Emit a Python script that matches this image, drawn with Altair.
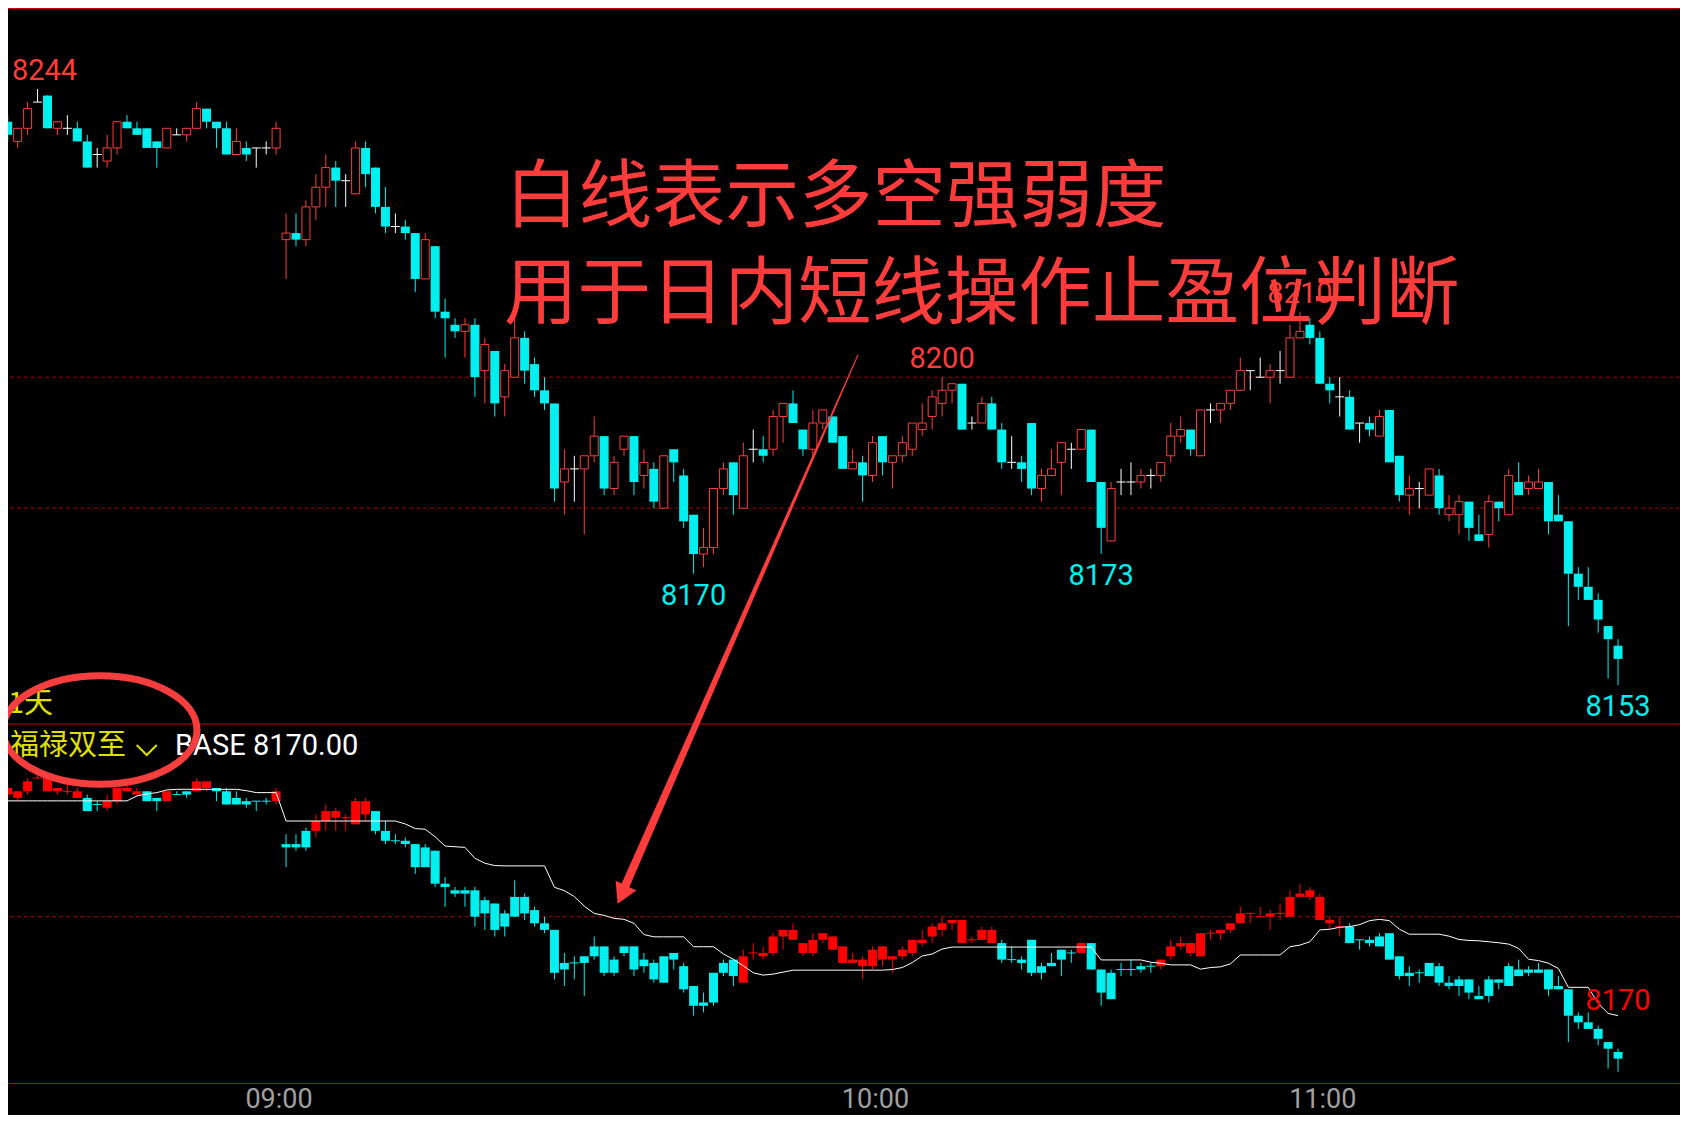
import altair as alt
import pandas as pd

# ---------------- data (1-minute candles) ----------------
OPEN = [
    8239, 8236, 8238, 8242, 8243, 8238, 8238, 8238, 8236, 8234,
    8233, 8235, 8239, 8238, 8238, 8236, 8235, 8237, 8237, 8238,
    8241, 8239, 8238, 8234, 8235, 8235, 8235, 8235, 8221, 8222,
    8221, 8226, 8229, 8232, 8230, 8228, 8235, 8232, 8226, 8223,
    8223, 8222, 8215, 8220, 8210, 8208, 8207, 8208, 8201, 8204,
    8197, 8200, 8206, 8202, 8198, 8196, 8184, 8186, 8186, 8188,
    8191, 8183, 8189, 8191, 8185, 8186, 8180, 8189, 8185, 8179,
    8173, 8174, 8183, 8187, 8180, 8189, 8189, 8189, 8194, 8196,
    8192, 8189, 8193, 8194, 8191, 8186, 8187, 8185, 8191, 8187,
    8188, 8189, 8192, 8194, 8196, 8198, 8199, 8193, 8193, 8196,
    8192, 8187, 8187, 8193, 8183, 8185, 8187, 8189, 8189, 8192,
    8184, 8175, 8184, 8184, 8184, 8185, 8185, 8188, 8191, 8192,
    8188, 8195, 8195, 8196, 8198, 8201, 8200, 8200, 8201, 8200,
    8206, 8208, 8206, 8199, 8197, 8197, 8193, 8193, 8191, 8195,
    8188, 8182, 8183, 8182, 8185, 8179, 8179, 8181, 8176, 8176,
    8181, 8179, 8184, 8183, 8183, 8184, 8179, 8178, 8170, 8168,
    8166, 8162, 8159,
]
HIGH = [
    8240, 8238, 8242, 8244, 8243, 8239, 8240, 8239, 8237, 8235,
    8237, 8239, 8240, 8239, 8238, 8236, 8238, 8238, 8238, 8242,
    8241, 8239, 8239, 8238, 8236, 8235, 8236, 8239, 8225, 8225,
    8227, 8231, 8234, 8233, 8231, 8236, 8236, 8232, 8229, 8225,
    8224, 8222, 8222, 8220, 8212, 8209, 8209, 8209, 8206, 8204,
    8202, 8211, 8207, 8203, 8200, 8196, 8189, 8188, 8188, 8194,
    8191, 8188, 8191, 8191, 8189, 8187, 8188, 8189, 8186, 8179,
    8177, 8183, 8187, 8187, 8190, 8192, 8191, 8195, 8196, 8198,
    8192, 8195, 8195, 8194, 8191, 8189, 8188, 8191, 8191, 8188,
    8191, 8193, 8196, 8198, 8200, 8199, 8199, 8194, 8197, 8197,
    8193, 8191, 8188, 8193, 8186, 8189, 8190, 8190, 8192, 8192,
    8184, 8184, 8186, 8187, 8186, 8186, 8187, 8193, 8194, 8192,
    8195, 8196, 8196, 8198, 8203, 8201, 8203, 8202, 8204, 8208,
    8210, 8209, 8207, 8200, 8200, 8198, 8193, 8194, 8195, 8195,
    8188, 8185, 8184, 8186, 8186, 8182, 8182, 8181, 8179, 8182,
    8181, 8186, 8187, 8185, 8186, 8184, 8182, 8178, 8171, 8171,
    8167, 8162, 8160,
]
LOW = [
    8236, 8235, 8237, 8242, 8238, 8237, 8237, 8236, 8232, 8232,
    8232, 8234, 8238, 8237, 8235, 8232, 8235, 8237, 8236, 8238,
    8238, 8235, 8234, 8234, 8233, 8232, 8234, 8234, 8215, 8220,
    8220, 8224, 8226, 8226, 8226, 8228, 8229, 8225, 8222, 8222,
    8221, 8213, 8215, 8209, 8203, 8206, 8203, 8197, 8196, 8194,
    8194, 8200, 8199, 8197, 8195, 8181, 8179, 8181, 8176, 8187,
    8182, 8182, 8188, 8182, 8183, 8180, 8180, 8184, 8177, 8170,
    8171, 8173, 8182, 8179, 8180, 8187, 8187, 8188, 8190, 8193,
    8188, 8188, 8192, 8190, 8186, 8186, 8181, 8184, 8185, 8183,
    8187, 8188, 8191, 8192, 8194, 8196, 8192, 8192, 8193, 8192,
    8186, 8186, 8184, 8182, 8181, 8185, 8182, 8186, 8189, 8184,
    8173, 8175, 8182, 8182, 8183, 8183, 8184, 8187, 8190, 8188,
    8188, 8193, 8193, 8195, 8198, 8198, 8200, 8196, 8199, 8200,
    8206, 8205, 8199, 8196, 8194, 8192, 8190, 8191, 8191, 8187,
    8181, 8179, 8180, 8182, 8179, 8178, 8176, 8175, 8175, 8174,
    8178, 8179, 8182, 8182, 8183, 8176, 8178, 8162, 8166, 8166,
    8161, 8154, 8153,
]
CLOSE = [
    8237, 8238, 8241, 8242, 8238, 8239, 8238, 8236, 8232, 8234,
    8235, 8239, 8238, 8237, 8235, 8235, 8238, 8237, 8238, 8241,
    8239, 8238, 8234, 8236, 8234, 8235, 8235, 8238, 8222, 8221,
    8226, 8229, 8232, 8230, 8230, 8235, 8231, 8226, 8223, 8223,
    8222, 8215, 8221, 8210, 8209, 8207, 8208, 8200, 8205, 8196,
    8201, 8206, 8201, 8198, 8196, 8183, 8186, 8186, 8188, 8191,
    8183, 8187, 8191, 8184, 8187, 8181, 8188, 8187, 8178, 8173,
    8174, 8183, 8186, 8182, 8188, 8189, 8188, 8194, 8196, 8193,
    8189, 8193, 8195, 8190, 8186, 8187, 8185, 8190, 8187, 8188,
    8190, 8193, 8193, 8197, 8198, 8199, 8192, 8193, 8196, 8192,
    8187, 8187, 8186, 8183, 8185, 8186, 8190, 8189, 8192, 8184,
    8177, 8183, 8184, 8184, 8185, 8185, 8187, 8191, 8192, 8189,
    8195, 8195, 8196, 8198, 8201, 8201, 8200, 8201, 8201, 8206,
    8207, 8206, 8199, 8198, 8197, 8192, 8193, 8192, 8194, 8187,
    8182, 8183, 8183, 8186, 8180, 8180, 8181, 8177, 8175, 8181,
    8180, 8185, 8182, 8184, 8184, 8178, 8178, 8170, 8168, 8166,
    8163, 8160, 8157,
]
# white "strength" line of the lower panel
STRENGTH = [
    8235.1, 8235.1, 8235.1, 8235.1, 8235.1, 8235.1, 8235.1, 8235.1, 8235.1, 8235.1,
    8235.1, 8235.1, 8235.1, 8236.6, 8237.2, 8237.6, 8238.4, 8238.6, 8238.6, 8238.6,
    8238.6, 8238.6, 8238.6, 8238.6, 8238.2, 8237.6, 8237.6, 8237.6, 8229.0, 8229.0,
    8229.0, 8229.0, 8229.0, 8229.0, 8229.0, 8229.0, 8229.0, 8229.0, 8229.0, 8229.0,
    8228.1, 8226.7, 8226.5, 8224.2, 8221.4, 8221.2, 8221.0, 8217.7, 8216.2, 8215.5,
    8215.4, 8215.4, 8215.4, 8215.4, 8215.4, 8208.9, 8207.9, 8206.1, 8203.2, 8201.0,
    8200.4, 8199.5, 8199.2, 8198.0, 8194.6, 8193.9, 8193.9, 8193.9, 8193.9, 8190.9,
    8190.9, 8190.9, 8188.7, 8187.1, 8185.1, 8183.0, 8182.3, 8182.6, 8183.2, 8183.8,
    8183.8, 8183.8, 8183.8, 8183.8, 8183.8, 8183.8, 8183.8, 8183.8, 8183.8, 8184.0,
    8184.6, 8186.1, 8188.1, 8188.7, 8190.2, 8190.8, 8190.8, 8190.8, 8190.8, 8190.8,
    8190.8, 8190.8, 8190.8, 8190.8, 8190.8, 8190.8, 8190.8, 8190.8, 8190.8, 8190.8,
    8186.9, 8186.9, 8186.9, 8186.9, 8186.9, 8186.2, 8185.9, 8185.4, 8185.4, 8185.4,
    8184.1, 8184.6, 8184.8, 8185.7, 8188.4, 8188.4, 8188.4, 8188.4, 8188.4, 8190.9,
    8191.4, 8192.4, 8196.0, 8196.2, 8196.8, 8197.0, 8197.6, 8198.8, 8199.2, 8198.8,
    8196.2, 8194.7, 8194.7, 8194.7, 8194.7, 8194.1, 8193.1, 8192.8, 8192.7, 8192.4,
    8192.1, 8191.7, 8190.4, 8187.1, 8186.7, 8185.9, 8184.3, 8178.6, 8178.6, 8178.6,
    8173.7, 8170.7, 8170.0,
]
# lower-panel signal per candle: r = above line (red), c = below (cyan)
SIGNAL = list(
    "rrrrrrrrcc"
    "rrrrccrccr"
    "rccccccrcc"
    "crrrrrrccc"
    "cccccccccc"
    "cccccccccc"
    "cccccccccc"
    "ccccrrrrrr"
    "rrrrrrrrrr"
    "rrrrrrrrrr"
    "ccccccccrc"
    "ccccccrrrr"
    "rrrrrrrrrr"
    "rrrrrccccc"
    "cccccccccc"
    "cccccccccc"
    "ccc"
)

TOP_GRID = [8200, 8180]
BOT_GRID = [8200]
EDGE_MARK_IDX = [3]
EDGE_MARK_PRICE = [8244]
HIGH_MARK_IDX = [94, 130]
HIGH_MARK_PRICE = [8200, 8210]
LOW_MARK_IDX = [69, 110, 162]
LOW_MARK_PRICE = [8170, 8173, 8153]
BASE_MARK_IDX = [162]
BASE_MARK_PRICE = [8170]
TIME_IDX = [28, 88, 133]
TIME_TEXT = ["09:00", "10:00", "11:00"]
ARROW_IDX = [85.53, 62.03]
ARROW_PRICE = [8203.39, 8122.02]
ARROW_WIDTH = [1.0, 8.5]
HEAD_IDX = [61.78]
HEAD_PRICE = [8121.0]
TITLE_1 = "白线表示多空强弱度"
TITLE_2 = "用于日内短线操作止盈位判断"
PANEL_TAG = "1天"
INDICATOR = "福禄双至"
BASE_TEXT = "BASE 8170.00"

# ---------------- styles ----------------
W, H = 1672, 1107
RED_HOLLOW = "#ff3c3c"
RED_FILL = "#ff0000"
CYAN = "#00f0f0"
WHITE = "#ffffff"
GRID = "#a00000"
SEP = "#c80000"
YELLOW = "#e0e000"
NUM_FONT = "Roboto"
CJK_FONT = "Noto Sans CJK SC"

XS = alt.Scale(domain=[0.53, 167.73], nice=False, zero=False)
YT = alt.Scale(domain=[8087.358, 8256.366], nice=False, zero=False)
YB = alt.Scale(domain=[8139.909, 8475.364], nice=False, zero=False)

n = len(OPEN)
df = pd.DataFrame({
    "idx": list(range(n)), "o": OPEN, "h": HIGH, "l": LOW, "c": CLOSE,
    "line": STRENGTH, "sig": SIGNAL,
})
df["tcol"] = [RED_HOLLOW if c > o else (CYAN if c < o else WHITE) for o, c in zip(OPEN, CLOSE)]
df["bcol"] = [RED_FILL if s == "r" else CYAN for s in SIGNAL]

base = alt.Chart(df)
X = alt.X("idx:Q", scale=XS, axis=None)


def yt(f):
    return alt.Y(f, scale=YT, axis=None)


def yb(f):
    return alt.Y(f, scale=YB, axis=None)


def marks(idx, price):
    return pd.DataFrame({"idx": idx, "p": price, "t": [str(v) for v in price]})


# grids
grid_top = alt.Chart(pd.DataFrame({"p": TOP_GRID})).mark_rule(
    color=GRID, strokeDash=[4, 3], strokeWidth=1).encode(y=yt("p:Q"))
grid_bot = alt.Chart(pd.DataFrame({"p": BOT_GRID})).mark_rule(
    color=GRID, strokeDash=[4, 3], strokeWidth=1).encode(y=yb("p:Q"))

# top panel candles
top_wick = base.mark_rule(strokeWidth=1).encode(
    x=X, y=yt("l:Q"), y2="h:Q", color=alt.Color("tcol:N", scale=None))
top_dn = base.transform_filter("datum.c < datum.o").mark_bar(size=9, color=CYAN).encode(
    x=X, y=yt("o:Q"), y2="c:Q")
top_up = base.transform_filter("datum.c > datum.o").mark_bar(
    size=8, fill="#000000", stroke=RED_HOLLOW, strokeWidth=1).encode(
    x=X, y=yt("o:Q"), y2="c:Q")
top_eq = base.transform_filter("datum.c == datum.o").mark_rule(
    xOffset=-4.5, x2Offset=4.5, color=WHITE, strokeWidth=1).encode(
    x=X, x2="idx:Q", y=yt("o:Q"))

# bottom panel candles
bot_wick = base.mark_rule(strokeWidth=1).encode(
    x=X, y=yb("l:Q"), y2="h:Q", color=alt.Color("bcol:N", scale=None))
bot_body = base.transform_filter("datum.c != datum.o").mark_bar(size=9).encode(
    x=X, y=yb("o:Q"), y2="c:Q", color=alt.Color("bcol:N", scale=None))
bot_eq = base.transform_filter("datum.c == datum.o").mark_rule(
    xOffset=-4.5, x2Offset=4.5, strokeWidth=1).encode(
    x=X, x2="idx:Q", y=yb("o:Q"), color=alt.Color("bcol:N", scale=None))
bot_line = base.mark_line(color=WHITE, strokeWidth=1).encode(x=X, y=yb("line:Q"))

# separators
one = pd.DataFrame({"k": [0]})
sep_top = alt.Chart(one).mark_rule(color=SEP, strokeWidth=1).encode(y=alt.value(0.5))
sep_mid = alt.Chart(one).mark_rule(color=SEP, strokeWidth=1).encode(y=alt.value(716))
sep_bot = alt.Chart(one).mark_rule(color=SEP, strokeWidth=1).encode(y=alt.value(1075.5))

# price labels
edge_lab = alt.Chart(marks(EDGE_MARK_IDX, EDGE_MARK_PRICE)).mark_text(
    font=NUM_FONT, fontSize=29, color=RED_HOLLOW, dx=7, dy=-18, baseline="middle").encode(
    x=X, y=yt("p:Q"), text="t:N")
hi_lab = alt.Chart(marks(HIGH_MARK_IDX, HIGH_MARK_PRICE)).mark_text(
    font=NUM_FONT, fontSize=29, color=RED_HOLLOW, dy=-18, baseline="middle").encode(
    x=X, y=yt("p:Q"), text="t:N")
lo_lab = alt.Chart(marks(LOW_MARK_IDX, LOW_MARK_PRICE)).mark_text(
    font=NUM_FONT, fontSize=29, color=CYAN, dy=22, baseline="middle").encode(
    x=X, y=yt("p:Q"), text="t:N")
bs_lab = alt.Chart(marks(BASE_MARK_IDX, BASE_MARK_PRICE)).mark_text(
    font=NUM_FONT, fontSize=29, color=RED_FILL, dy=-15, baseline="middle").encode(
    x=X, y=yb("p:Q"), text="t:N")

time_lab = alt.Chart(pd.DataFrame({"idx": TIME_IDX, "t": TIME_TEXT})).mark_text(
    font=NUM_FONT, fontSize=27, color="#a0a0a0", dx=-7, baseline="alphabetic").encode(
    x=X, y=alt.value(1100), text="t:N")

# big annotation text
title1 = alt.Chart(pd.DataFrame({"t": [TITLE_1]})).mark_text(
    font=CJK_FONT, fontSize=73.5, color=RED_HOLLOW, align="left", baseline="alphabetic").encode(
    x=alt.value(497), y=alt.value(213), text="t:N")
title2 = alt.Chart(pd.DataFrame({"t": [TITLE_2]})).mark_text(
    font=CJK_FONT, fontSize=73.5, color=RED_HOLLOW, align="left", baseline="alphabetic").encode(
    x=alt.value(496), y=alt.value(310), text="t:N")

# arrow
arrow_df = pd.DataFrame({"idx": ARROW_IDX, "p": ARROW_PRICE, "w": ARROW_WIDTH})
shaft = alt.Chart(arrow_df).mark_trail(color=RED_HOLLOW).encode(
    x=X, y=yt("p:Q"), size=alt.Size("w:Q", scale=None, legend=None))
head = alt.Chart(pd.DataFrame({"idx": HEAD_IDX, "p": HEAD_PRICE})).mark_point(
    shape="triangle-up", size=529, angle=205, filled=True, color=RED_HOLLOW, opacity=1).encode(
    x=X, y=yt("p:Q"))

# indicator header
tag = alt.Chart(pd.DataFrame({"t": [PANEL_TAG]})).mark_text(
    font=CJK_FONT, fontSize=29, color=YELLOW, align="left", baseline="middle").encode(
    x=alt.value(0), y=alt.value(696), text="t:N")
ind = alt.Chart(pd.DataFrame({"t": [INDICATOR]})).mark_text(
    font=CJK_FONT, fontSize=29, color=YELLOW, align="left", baseline="middle").encode(
    x=alt.value(2), y=alt.value(738), text="t:N")
chev = alt.Chart(one).mark_point(
    shape="M -1 -0.5 L 0 0.5 L 1 -0.5", size=400, filled=False, color=YELLOW,
    strokeWidth=2, opacity=1).encode(x=alt.value(138.7), y=alt.value(742))
base_txt = alt.Chart(pd.DataFrame({"t": [BASE_TEXT]})).mark_text(
    font=NUM_FONT, fontSize=29, color=WHITE, align="left", baseline="middle").encode(
    x=alt.value(167), y=alt.value(738), text="t:N")

ELLIPSE = ("M 1 0 C 1 0.3087 0.5523 0.559 0 0.559 C -0.5523 0.559 -1 0.3087 -1 0 "
           "C -1 -0.3087 -0.5523 -0.559 0 -0.559 C 0.5523 -0.559 1 -0.3087 1 0 Z")
ellipse = alt.Chart(one).mark_point(
    shape=ELLIPSE, size=37636, filled=False, color="#f63e3e", strokeWidth=7, opacity=1).encode(
    x=alt.value(92), y=alt.value(722))

chart = alt.layer(
    grid_top, grid_bot,
    top_wick, top_dn, top_up, top_eq,
    bot_wick, bot_body, bot_eq, bot_line,
    sep_top, sep_mid, sep_bot,
    edge_lab, hi_lab, lo_lab, bs_lab, time_lab,
    title1, title2,
    shaft, head,
    tag, ind, chev, base_txt,
    ellipse,
).resolve_scale(y="independent").properties(
    width=W, height=H, autosize=alt.AutoSizeParams(type="none"), padding=0,
    background="#000000",
).configure_view(stroke=None)

chart.save("out.html", embed_options={"renderer": "svg", "actions": False})
